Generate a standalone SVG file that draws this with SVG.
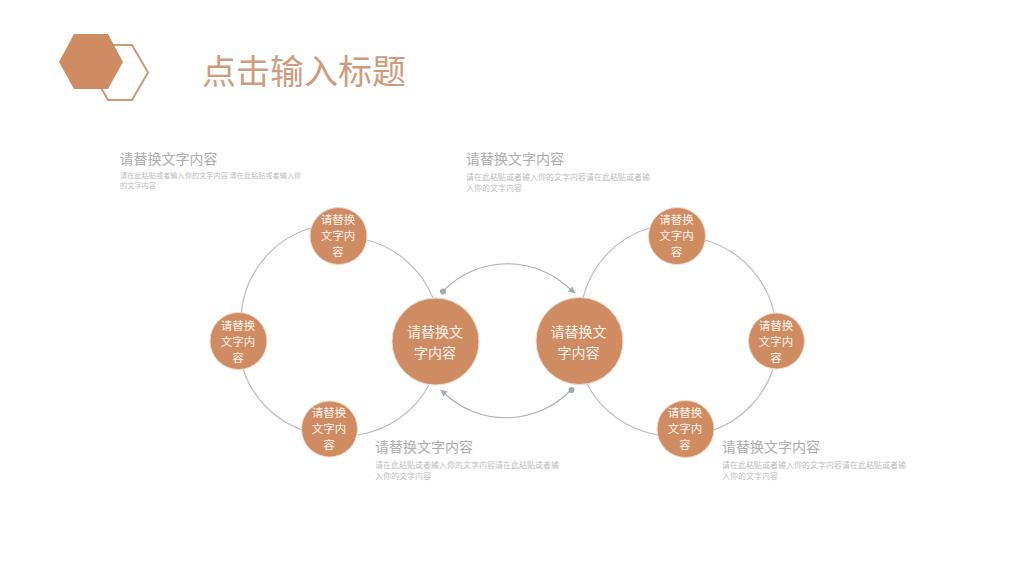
<svg xmlns="http://www.w3.org/2000/svg" width="1024" height="576" viewBox="0 0 1024 576">
<style>
text{font-family:"Noto Sans CJK SC","Liberation Sans",sans-serif}
.n{fill:#cf8c63;stroke:#f3d9c6;stroke-width:1}
.s{fill:#fdf3ec;font-size:11.500px;text-anchor:middle}
.b{fill:#fdf3ec;font-size:14px;text-anchor:middle}
.h{fill:#adadad;font-size:14px}
.d{fill:#bcbcbc;font-size:8px}
.c{fill:none;stroke:#bcbfc2;stroke-width:1.200}
.a{fill:none;stroke:#a9b0b5;stroke-width:1.200}
.p{fill:#a0aab0}
</style>
<g id="logo">
<polygon points="92,45 132,45 148,72.500 132,100 108,100 92,72" fill="none" stroke="#cf9a78" stroke-width="2"/>
<polygon points="74,34 108,34 123,62 108,89 74,89 59,62" fill="#cf8c63"/>
</g>
<text id="title" x="202" y="84" font-size="34" fill="#cf9b7c">点击输入标题</text>
<g id="connectors">
<path class="c" d="M311,228A98,98 0 0 0 241,318"/>
<path class="c" d="M367,240A98,98 0 0 1 433,298"/>
<path class="c" d="M243,369A98,98 0 0 0 302,430"/>
<path class="c" d="M358,435A98,98 0 0 0 429,385"/>
<path class="c" d="M649,228A98,98 0 0 0 583,298"/>
<path class="c" d="M705,240A98,98 0 0 1 775,318"/>
<path class="c" d="M587,384A98,98 0 0 0 658,435"/>
<path class="c" d="M714,430A98,98 0 0 0 773,369"/>
<path class="a" d="M443,291A90,90 0 0 1 572,291"/>
<polygon class="p" points="575.500,293.500 568,291.500 572,286.500"/>
<circle class="p" cx="443" cy="291.500" r="3"/>
<path class="a" d="M571,390A90,90 0 0 1 444,393"/>
<polygon class="p" points="440,389.500 447.500,391.500 443.500,396.500"/>
<circle class="p" cx="571.500" cy="390" r="3"/>
</g>
<g id="node-l1"><circle class="n" cx="338.500" cy="236" r="28.500"/><text class="s" x="338" y="224">请替换</text><text class="s" x="338" y="240">文字内</text><text class="s" x="338" y="256">容</text></g>
<g id="node-l2"><circle class="n" cx="238.500" cy="341" r="28.500"/><text class="s" x="238" y="330">请替换</text><text class="s" x="238" y="346">文字内</text><text class="s" x="238" y="362">容</text></g>
<g id="node-l3"><circle class="n" cx="329.500" cy="429" r="28"/><text class="s" x="329" y="417">请替换</text><text class="s" x="329" y="433">文字内</text><text class="s" x="329" y="449">容</text></g>
<g id="node-c1"><circle class="n" cx="435.500" cy="341.500" r="43.500"/><text class="b" x="435" y="337">请替换文</text><text class="b" x="435" y="358">字内容</text></g>
<g id="node-c2"><circle class="n" cx="579.500" cy="341" r="43.500"/><text class="b" x="578.500" y="337">请替换文</text><text class="b" x="578.500" y="358">字内容</text></g>
<g id="node-r1"><circle class="n" cx="677" cy="236" r="28.500"/><text class="s" x="676.500" y="224">请替换</text><text class="s" x="676.500" y="240">文字内</text><text class="s" x="676.500" y="256">容</text></g>
<g id="node-r2"><circle class="n" cx="776.500" cy="341" r="28"/><text class="s" x="776" y="330">请替换</text><text class="s" x="776" y="346">文字内</text><text class="s" x="776" y="362">容</text></g>
<g id="node-r3"><circle class="n" cx="685.500" cy="429" r="28.500"/><text class="s" x="685" y="417">请替换</text><text class="s" x="685" y="433">文字内</text><text class="s" x="685" y="449">容</text></g>
<g id="text-1"><text class="h" x="119.500" y="164">请替换文字内容</text><text class="d" x="120" y="178" style="font-size:7.200px">请在此粘贴或者输入你的文字内容 请在此粘贴或者输入你</text><text class="d" x="120" y="187.500" style="font-size:7.200px">的文字内容</text></g>
<g id="text-2"><text class="h" x="466" y="164">请替换文字内容</text><text class="d" x="466" y="180">请在此粘贴或者输入你的文字内容请在此粘贴或者输</text><text class="d" x="466" y="191">入你的文字内容</text></g>
<g id="text-3"><text class="h" x="375" y="452">请替换文字内容</text><text class="d" x="375" y="468">请在此粘贴或者输入你的文字内容请在此粘贴或者输</text><text class="d" x="375" y="479">入你的文字内容</text></g>
<g id="text-4"><text class="h" x="722" y="452">请替换文字内容</text><text class="d" x="722" y="468">请在此粘贴或者输入你的文字内容请在此粘贴或者输</text><text class="d" x="722" y="479">入你的文字内容</text></g>
</svg>
